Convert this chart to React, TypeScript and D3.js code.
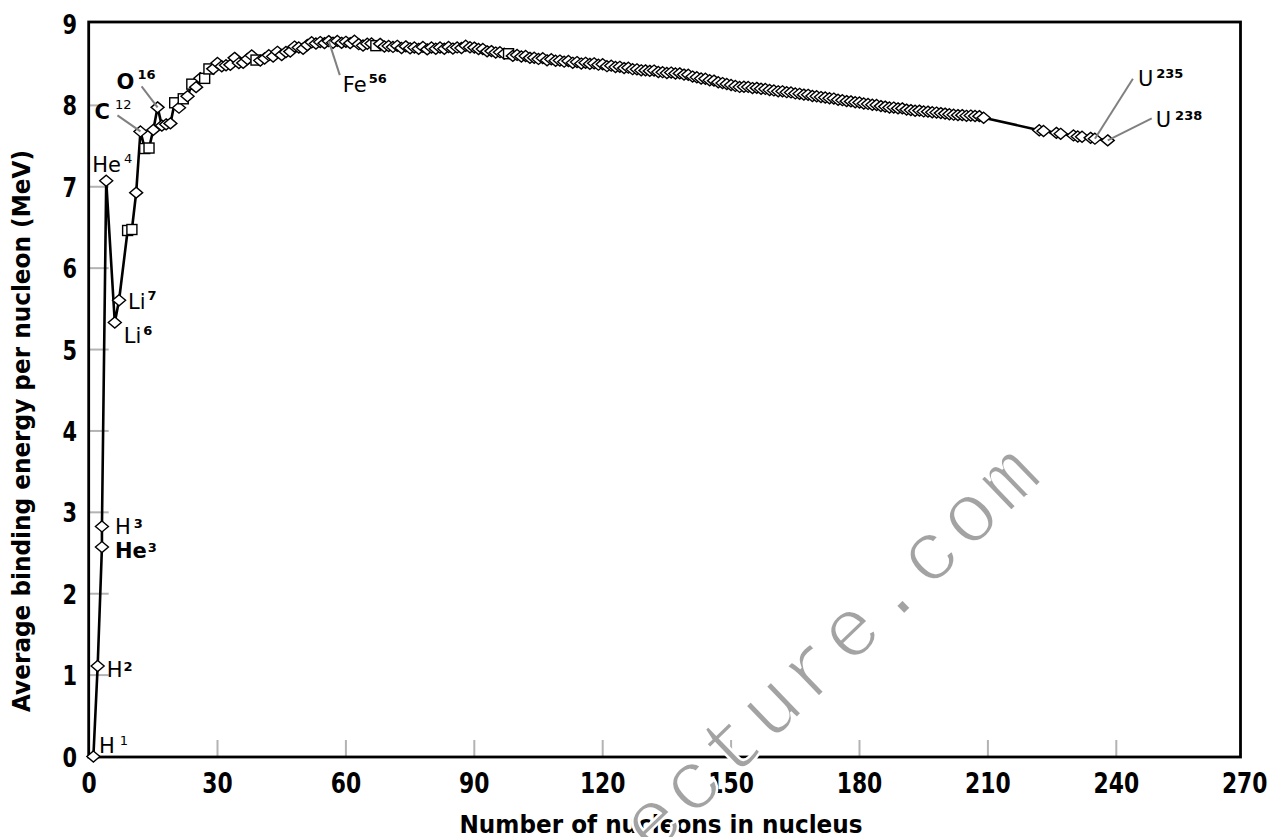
import React from 'react';
import * as d3 from 'd3';

// Mass number A of each plotted nuclide
const massNumbers: number[] = [
  1, 2, 3, 3, 4, 6, 7, 9, 10, 11, 12, 13, 14, 15, 16, 17, 18, 19, 20,
  21, 22, 23, 24, 25, 26, 27, 28, 29, 30, 31, 32, 33, 34, 35, 36, 37, 38, 39, 40,
  41, 42, 43, 44, 45, 46, 47, 48, 49, 50, 51, 52, 53, 54, 55, 56, 57, 58, 59, 60,
  61, 62, 63, 64, 65, 66, 67, 68, 69, 70, 71, 72, 73, 74, 75, 76, 77, 78, 79, 80,
  81, 82, 83, 84, 85, 86, 87, 88, 89, 90, 91, 92, 93, 94, 95, 96, 97, 98, 99, 100,
  101, 102, 103, 104, 105, 106, 107, 108, 109, 110, 111, 112, 113, 114, 115, 116, 117, 118, 119, 120,
  121, 122, 123, 124, 125, 126, 127, 128, 129, 130, 131, 132, 133, 134, 135, 136, 137, 138, 139, 140,
  141, 142, 143, 144, 145, 146, 147, 148, 149, 150, 151, 152, 153, 154, 155, 156, 157, 158, 159, 160,
  161, 162, 163, 164, 165, 166, 167, 168, 169, 170, 171, 172, 173, 174, 175, 176, 177, 178, 179, 180,
  181, 182, 183, 184, 185, 186, 187, 188, 189, 190, 191, 192, 193, 194, 195, 196, 197, 198, 199, 200,
  201, 202, 203, 204, 205, 206, 207, 208, 209,
  222, 223, 226, 227, 230, 231, 232, 234, 235, 238,
];

// Average binding energy per nucleon (MeV), same order as massNumbers
const bindingEnergy: number[] = [
  0, 1.112, 2.573, 2.827, 7.074, 5.332, 5.606, 6.463, 6.475, 6.928, 7.68, 7.47, 7.476, 7.699, 7.976, 7.751, 7.767, 7.779, 8.032,
  7.972, 8.081, 8.112, 8.261, 8.224, 8.334, 8.332, 8.448, 8.449, 8.521, 8.481, 8.493, 8.498, 8.584, 8.52, 8.522, 8.57, 8.614, 8.557, 8.551,
  8.576, 8.617, 8.601, 8.658, 8.619, 8.656, 8.661, 8.723, 8.711, 8.696, 8.742, 8.776, 8.76, 8.778, 8.765, 8.79, 8.77, 8.792, 8.768, 8.781,
  8.765, 8.795, 8.752, 8.736, 8.757, 8.76, 8.734, 8.756, 8.724, 8.73, 8.718, 8.732, 8.705, 8.725, 8.701, 8.711, 8.695, 8.718, 8.688, 8.711,
  8.696, 8.711, 8.696, 8.717, 8.698, 8.712, 8.705, 8.733, 8.714, 8.71, 8.693, 8.693, 8.664, 8.667, 8.649, 8.654, 8.635, 8.635, 8.608, 8.62,
  8.601, 8.607, 8.584, 8.585, 8.571, 8.58, 8.554, 8.567, 8.548, 8.551, 8.537, 8.545, 8.523, 8.532, 8.514, 8.523, 8.51, 8.517, 8.5, 8.505,
  8.482, 8.488, 8.472, 8.474, 8.458, 8.463, 8.445, 8.443, 8.431, 8.43, 8.424, 8.428, 8.41, 8.408, 8.398, 8.403, 8.392, 8.393, 8.378, 8.376,
  8.354, 8.346, 8.33, 8.327, 8.309, 8.304, 8.284, 8.274, 8.263, 8.25, 8.239, 8.227, 8.229, 8.227, 8.213, 8.215, 8.204, 8.202, 8.189, 8.184,
  8.173, 8.173, 8.162, 8.159, 8.147, 8.142, 8.132, 8.13, 8.115, 8.112, 8.102, 8.097, 8.088, 8.084, 8.069, 8.064, 8.052, 8.049, 8.039, 8.035,
  8.023, 8.018, 8.008, 8.005, 7.991, 7.985, 7.974, 7.973, 7.963, 7.963, 7.948, 7.942, 7.934, 7.936, 7.926, 7.923, 7.916, 7.912, 7.905, 7.899,
  7.891, 7.886, 7.88, 7.88, 7.872, 7.875, 7.87, 7.868, 7.848,
  7.695, 7.685, 7.662, 7.651, 7.631, 7.618, 7.615, 7.601, 7.591, 7.57,
];

// Mass numbers drawn with square markers (the rest are diamonds)
const squareMarkers: number[] = [9, 10, 13, 14, 20, 22, 24, 27, 28, 39, 67, 98];

const xTicks: number[] = [0, 30, 60, 90, 120, 150, 180, 210, 240, 270];
const yTicks: number[] = [0, 1, 2, 3, 4, 5, 6, 7, 8, 9];

const xTitle = 'Number of nucleons in nucleus';
const yTitle = 'Average binding energy per nucleon (MeV)';

// Labelled nuclides
const labelSymbols: string[] = ['H', 'H', 'H', 'He', 'He', 'Li', 'Li', 'C', 'O', 'Fe', 'U', 'U'];
const labelMass: string[] = ['1', '2', '3', '3', '4', '7', '6', '12', '16', '56', '235', '238'];
const labelA: number[] = [1, 2, 3, 3, 4, 7, 6, 12, 16, 56, 235, 238];
const labelBE: number[] = [0, 1.112, 2.827, 2.573, 7.074, 5.606, 5.332, 7.68, 7.976, 8.79, 7.591, 7.57];

// layout of labels (pixel offsets relative to the labelled point; sup offsets relative to the symbol)
const labelLayout = [
  { tx: 5.5, ty: -3.5, gap: 5, up: 8.5, bold: false, supBold: false, ptr: null },
  { tx: 9, ty: 11, gap: 1, up: 6, bold: false, supBold: true, ptr: null },
  { tx: 13, ty: 8, gap: 3, up: 6.5, bold: false, supBold: true, ptr: null },
  { tx: 13, ty: 10.5, gap: 1, up: 6, bold: true, supBold: true, ptr: null },
  { tx: -14, ty: -9, gap: 3, up: 8.5, bold: false, supBold: false, ptr: null },
  { tx: 9, ty: 9, gap: 2, up: 9.5, bold: false, supBold: true, ptr: null },
  { tx: 9, ty: 20, gap: 2, up: 7.5, bold: false, supBold: true, ptr: null },
  { tx: -46, ty: -12, gap: 5, up: 10.5, bold: true, supBold: false, ptr: [-23, -16] },
  { tx: -41, ty: -18, gap: 3, up: 10.5, bold: true, supBold: true, ptr: [-16, -21] },
  { tx: 14, ty: 51, gap: 2, up: 9.5, bold: false, supBold: true, ptr: [11, 34] },
  { tx: 43, ty: -53, gap: 3, up: 7.5, bold: false, supBold: true, ptr: [38, -60] },
  { tx: 48, ty: -13, gap: 4, up: 7.5, bold: false, supBold: true, ptr: [44, -22] },
];

const W = 1268;
const H = 837;
const frame = { left: 88.7, right: 1240.5, top: 22, bottom: 757 };

export default function App() {
  const x = d3.scaleLinear().domain([0, 270]).range([89.1, 1244.7]);
  const y = d3.scaleLinear().domain([0, 9]).range([756.5, 24]);

  const pts = massNumbers.map((a, i) => ({ a, be: bindingEnergy[i] }));
  const line = d3
    .line<{ a: number; be: number }>()
    .x((d) => x(d.a))
    .y((d) => y(d.be));

  const diamond = (cx: number, cy: number) =>
    `M${cx},${cy - 5.5}L${cx + 6.5},${cy}L${cx},${cy + 5.5}L${cx - 6.5},${cy}Z`;

  const tickFont = "'DejaVu Sans', sans-serif";

  // watermark placement along its baseline
  const wmX = 652;
  const wmY = 858;

  return (
    <svg
      width={W}
      height={H}
      viewBox={`0 0 ${W} ${H}`}
      style={{ position: 'absolute', left: 0, top: 0, background: '#fff' }}
    >
      <rect x={0} y={0} width={W} height={H} fill="#fff" />

      {/* ticks (gray, inside) */}
      {xTicks.slice(1, -1).map((t) => (
        <line key={'xt' + t} x1={x(t)} x2={x(t)} y1={frame.bottom} y2={frame.bottom - 17} stroke="#b3b3b3" strokeWidth={2} />
      ))}
      {yTicks.slice(1, -1).map((t) => (
        <line key={'yt' + t} x1={frame.left} x2={frame.left + 20} y1={y(t)} y2={y(t)} stroke="#b3b3b3" strokeWidth={2} />
      ))}

      {/* frame */}
      <rect
        x={frame.left}
        y={frame.top}
        width={frame.right - frame.left}
        height={frame.bottom - frame.top}
        fill="none"
        stroke="#000"
        strokeWidth={2.8}
      />

      {/* tick labels */}
      {xTicks.map((t) => (
        <text
          key={'xl' + t}
          transform={`translate(${x(t)},793) scale(0.95,1.2)`}
          textAnchor="middle"
          fontFamily={tickFont}
          fontWeight="bold"
          fontSize={23}
          fill="#000"
        >
          {t}
        </text>
      ))}
      {yTicks.map((t) => (
        <text
          key={'yl' + t}
          transform={`translate(77,${y(t) + 10}) scale(0.95,1.2)`}
          textAnchor="end"
          fontFamily={tickFont}
          fontWeight="bold"
          fontSize={22}
          fill="#000"
        >
          {t}
        </text>
      ))}

      {/* axis titles */}
      <text
        transform="translate(661,833) scale(1,1.18)"
        textAnchor="middle"
        fontFamily={tickFont}
        fontWeight="bold"
        fontSize={21}
        textLength={403}
        lengthAdjust="spacingAndGlyphs"
      >
        {xTitle}
      </text>
      <text
        transform="translate(30,431) rotate(-90) scale(1,1.18)"
        textAnchor="middle"
        fontFamily={tickFont}
        fontWeight="bold"
        fontSize={21}
        textLength={562}
        lengthAdjust="spacingAndGlyphs"
      >
        {yTitle}
      </text>

      {/* data line */}
      <path d={line(pts) || ''} fill="none" stroke="#000" strokeWidth={2.6} strokeLinejoin="round" />

      {/* markers */}
      {pts.map((p, i) =>
        squareMarkers.includes(p.a) ? (
          <rect
            key={'m' + i}
            x={x(p.a) - 5}
            y={y(p.be) - 5}
            width={10}
            height={10}
            fill="#fff"
            stroke="#000"
            strokeWidth={1.4}
          />
        ) : (
          <path key={'m' + i} d={diamond(x(p.a), y(p.be))} fill="#fff" stroke="#000" strokeWidth={1.4} />
        )
      )}

      {/* labels */}
      {labelSymbols.map((s, i) => {
        const L = labelLayout[i];
        const px = x(labelA[i]);
        const py = y(labelBE[i]);
        return (
          <g key={'lab' + i}>
            {L.ptr && (
              <line x1={px} y1={py} x2={px + L.ptr[0]} y2={py + L.ptr[1]} stroke="#808080" strokeWidth={2} />
            )}
            <text x={px + L.tx} y={py + L.ty} fontFamily={tickFont} fontSize={21} fill="#000">
              <tspan fontWeight={L.bold ? 'bold' : 'normal'}>{s}</tspan>
              <tspan dx={L.gap} dy={-L.up} fontSize={13} fontWeight={L.supBold ? 'bold' : 'normal'}>
                {labelMass[i]}
              </tspan>
            </text>
          </g>
        );
      })}

      {/* watermark */}
      <text
        transform={`translate(${wmX},${wmY}) rotate(-44)`}
        fontFamily="'Liberation Mono', monospace"
        fontSize={84}
        letterSpacing={4.6}
        fill="#a3a3a3"
        stroke="#ffffff"
        strokeWidth={2.4}
        paintOrder="normal"
      >
        ecture.com
      </text>
    </svg>
  );
}
